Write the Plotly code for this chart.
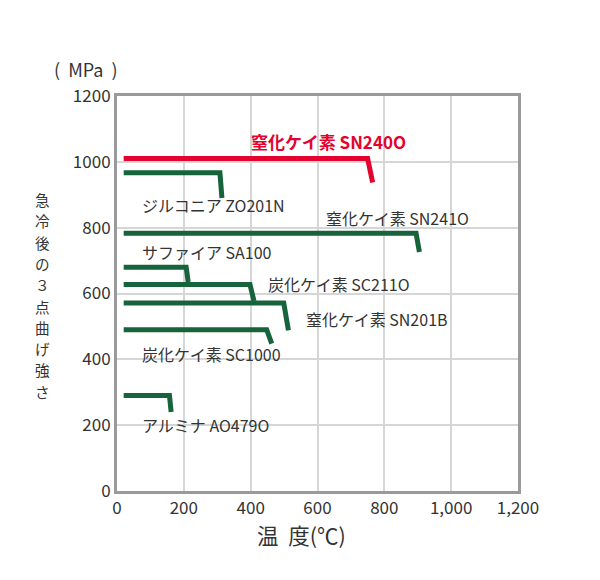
import plotly.graph_objects as go

# ---- data ----
materials = ["窒化ケイ素 SN240O", "ジルコニア ZO201N", "窒化ケイ素 SN241O", "サファイア SA100",
             "炭化ケイ素 SC211O", "窒化ケイ素 SN201B", "炭化ケイ素 SC1000", "アルミナ AO479O"]
start_temp = [20, 20, 20, 20, 20, 20, 20, 20]
hold_strength = [1010, 967, 783, 680, 627, 571, 490, 290]
corner_temp = [750, 308, 895, 207, 398, 499, 448, 157]
end_temp = [765, 314, 905, 213, 410, 513, 463, 162]
end_strength = [937, 890, 726, 635, 577, 488, 448, 240]
label_x = [395, 69, 619, 69, 446, 560, 69, 69]
label_y = [1061, 870, 828, 727, 630, 524, 415, 202]
x_ticks = [0, 200, 400, 600, 800, 1000, 1200]
y_ticks = [0, 200, 400, 600, 800, 1000, 1200]
y_title = "急冷後の３点曲げ強さ"
x_title = "温  度(℃)"
unit_label = "(  MPa  )"

RED = "#e4032e"
GREEN = "#16633c"
FONT = "Noto Sans CJK JP"

fig = go.Figure()
for i, name in enumerate(materials):
    color = RED if i == 0 else GREEN
    fig.add_trace(go.Scatter(
        x=[start_temp[i], corner_temp[i], end_temp[i]],
        y=[hold_strength[i], hold_strength[i], end_strength[i]],
        mode="lines", line=dict(color=color, width=5),
        showlegend=False, hoverinfo="skip"))
    fig.add_annotation(
        x=label_x[i], y=label_y[i], text=("<b>%s</b>" % name) if i == 0 else name,
        xanchor="left", yanchor="middle", showarrow=False,
        font=dict(family=FONT, size=17 if i == 0 else 16, color=RED if i == 0 else "#333333"))

fig.update_xaxes(range=[0, 1200], tickvals=x_ticks, tickformat=",",
                 showgrid=True, gridcolor="#d6d6d6", gridwidth=1.5,
                 showline=True, linecolor="#9a9a9a", linewidth=3, mirror=True,
                 zeroline=False, ticks="", tickfont=dict(family=FONT, size=17, color="#333333"))
fig.update_yaxes(range=[0, 1200], tickvals=y_ticks,
                 showgrid=True, gridcolor="#d6d6d6", gridwidth=1.5,
                 showline=True, linecolor="#9a9a9a", linewidth=3, mirror=True,
                 zeroline=False, ticks="", tickfont=dict(family=FONT, size=17, color="#333333"))

fig.add_annotation(xref="paper", yref="paper", x=0.459, y=-0.109, text=x_title,
                   xanchor="center", yanchor="middle", showarrow=False,
                   font=dict(family=FONT, size=21.5, color="#333333"))
fig.add_annotation(xref="paper", yref="paper", x=-0.077, y=(490 - 68) / 395, text=unit_label,
                   xanchor="center", yanchor="middle", showarrow=False,
                   font=dict(family=FONT, size=18, color="#333333"))
for k, ch in enumerate(y_title):
    py = 198.5 + k * 21.3
    fig.add_annotation(xref="paper", yref="paper", x=-0.185, y=(490 - py) / 395, text=ch,
                       xanchor="center", yanchor="middle", showarrow=False,
                       font=dict(family=FONT, size=14.6, color="#333333"))

fig.update_layout(width=600, height=580, margin=dict(l=109, r=90, t=88, b=97),
                  paper_bgcolor="white", plot_bgcolor="white")
fig.write_html("out.html")
